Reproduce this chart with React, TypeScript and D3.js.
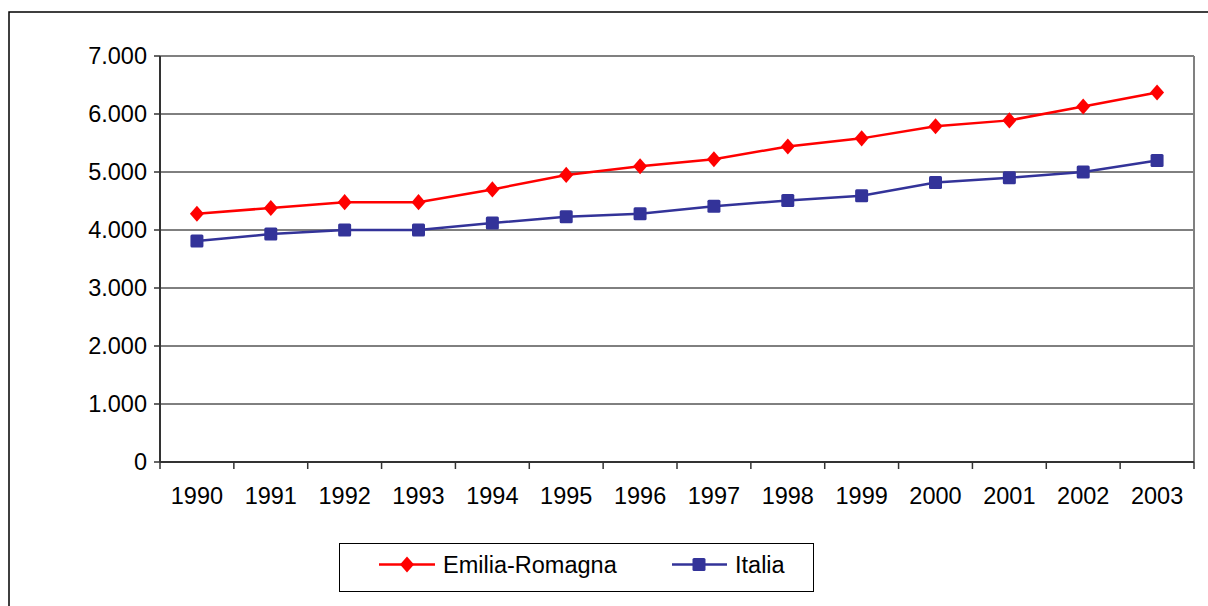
import React from 'react';
import * as d3 from 'd3';

const years = ['1990', '1991', '1992', '1993', '1994', '1995', '1996', '1997', '1998', '1999', '2000', '2001', '2002', '2003'];
const emiliaRomagna = [4280, 4380, 4480, 4480, 4700, 4950, 5100, 5220, 5440, 5580, 5790, 5890, 6130, 6370];
const italia = [3810, 3930, 4000, 4000, 4120, 4230, 4280, 4410, 4510, 4590, 4820, 4900, 5000, 5200];
const yTicks = [0, 1000, 2000, 3000, 4000, 5000, 6000, 7000];

const W = 1208;
const H = 606;
const plot = { left: 160, right: 1194, top: 56, bottom: 462 };
const font = '"Liberation Sans", Arial, sans-serif';
const fs = 23.5;

const fmt = (v: number) => (v === 0 ? '0' : d3.format(',')(v).replace(/,/g, '.'));

export default function App() {
  const x = d3.scaleBand<string>().domain(years).range([plot.left, plot.right]);
  const y = d3.scaleLinear().domain([0, 7000]).range([plot.bottom, plot.top]);
  const cx = (d: string) => (x(d) ?? 0) + x.bandwidth() / 2;

  const line = d3
    .line<number>()
    .x((_, i) => cx(years[i]))
    .y((v) => y(v));

  const diamond = (px: number, py: number, s: number) =>
    `M${px},${py - s * 1.15}L${px + s},${py}L${px},${py + s * 1.15}L${px - s},${py}Z`;

  const sq = 13;

  return (
    <svg width={W} height={H} style={{ position: 'absolute', left: 0, top: 0, background: '#fff' }} fontFamily={font}>
      {/* outer frame, runs past the right and bottom edges */}
      <rect x={9} y={12} width={W + 20} height={H + 20} fill="none" stroke="#000" strokeWidth={1.5} />

      {/* gridlines */}
      {yTicks.slice(1).map((t) => (
        <line key={t} x1={plot.left} x2={plot.right} y1={y(t)} y2={y(t)} stroke="#000" strokeWidth={1} />
      ))}
      <line x1={plot.left} x2={plot.right} y1={plot.top} y2={plot.top} stroke="#808080" strokeWidth={2} />
      <line x1={plot.right} x2={plot.right} y1={plot.top} y2={plot.bottom} stroke="#808080" strokeWidth={2} />

      {/* y axis */}
      <line x1={plot.left} x2={plot.left} y1={plot.top} y2={plot.bottom} stroke="#333" strokeWidth={2} />
      {yTicks.map((t) => (
        <g key={t}>
          <line x1={plot.left - 6} x2={plot.left} y1={y(t)} y2={y(t)} stroke="#333" strokeWidth={1.5} />
          <text x={147} y={y(t)} dy="0.36em" textAnchor="end" fontSize={fs} fill="#000">
            {fmt(t)}
          </text>
        </g>
      ))}

      {/* x axis */}
      <line x1={plot.left} x2={plot.right} y1={plot.bottom} y2={plot.bottom} stroke="#333" strokeWidth={2} />
      {[...years.map((d) => x(d) ?? 0), plot.right].map((bx, i) => (
        <line key={i} x1={bx} x2={bx} y1={plot.bottom} y2={plot.bottom + 7} stroke="#333" strokeWidth={1.5} />
      ))}
      {years.map((d) => (
        <text key={d} x={cx(d)} y={504} textAnchor="middle" fontSize={fs} fill="#000">
          {d}
        </text>
      ))}

      {/* series */}
      <path d={line(emiliaRomagna) ?? ''} fill="none" stroke="#ff0000" strokeWidth={2.5} />
      {emiliaRomagna.map((v, i) => (
        <path key={i} d={diamond(cx(years[i]), y(v), 7)} fill="#ff0000" />
      ))}
      <path d={line(italia) ?? ''} fill="none" stroke="#333399" strokeWidth={2.5} />
      {italia.map((v, i) => (
        <rect key={i} x={cx(years[i]) - sq / 2} y={y(v) - sq / 2} width={sq} height={sq} rx={1.5} fill="#333399" />
      ))}

      {/* legend */}
      <rect x={339.5} y={543.5} width={474} height={48} fill="#fff" stroke="#000" strokeWidth={1} />
      <line x1={379} x2={435} y1={564.5} y2={564.5} stroke="#ff0000" strokeWidth={2.5} />
      <path d={diamond(407, 564.5, 7)} fill="#ff0000" />
      <text x={443} y={564.5} dy="0.36em" fontSize={fs} fill="#000">
        Emilia-Romagna
      </text>
      <line x1={672} x2={727} y1={564.5} y2={564.5} stroke="#333399" strokeWidth={2.5} />
      <rect x={699 - sq / 2} y={564.5 - sq / 2} width={sq} height={sq} rx={1.5} fill="#333399" />
      <text x={735} y={564.5} dy="0.36em" fontSize={fs} fill="#000">
        Italia
      </text>
    </svg>
  );
}
